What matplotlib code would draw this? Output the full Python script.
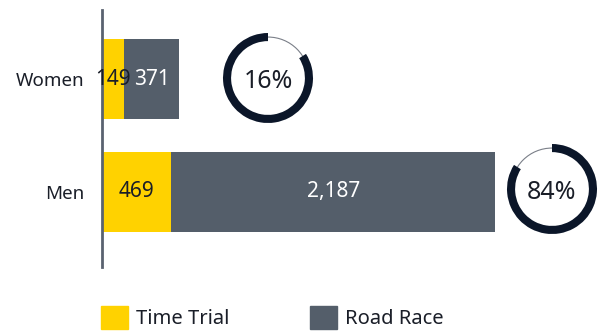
import matplotlib.pyplot as plt
from matplotlib.patches import Patch, Circle

plt.rcParams['font.family'] = ['Noto Sans', 'DejaVu Sans']

categories = ['Men', 'Women']
time_trial = [469, 149]
road_race = [2187, 371]
share_pct = [84, 16]  # men, women

yellow = '#FFD200'
grey = '#545E6A'
navy = '#0B1629'
ink = '#1A1E28'

W, H = 603, 332
fig = plt.figure(figsize=(W / 100, H / 100), dpi=100)

# main bar axes, placed in pixel units
ax = fig.add_axes([102 / W, 65 / H, 500 / W, 257 / H])
y = [0, 1]
ax.barh(y, time_trial, height=0.708, color=yellow)
ax.barh(y, road_race, left=time_trial, height=0.708, color=grey)
ax.set_xlim(0, 3380)
ax.set_ylim(-0.664, 1.611)

for yi, tt, rr in zip(y, time_trial, road_race):
    ax.text(tt / 2, yi, f'{tt:,}', ha='center', va='center', fontsize=15, color=ink)
    ax.text(tt + rr / 2, yi, f'{rr:,}', ha='center', va='center', fontsize=15, color='white')

ax.set_yticks(y)
ax.set_yticklabels(categories, fontsize=13.5, color=ink)
ax.tick_params(axis='y', length=0, pad=13)
ax.set_xticks([])
for s in ['top', 'right', 'bottom']:
    ax.spines[s].set_visible(False)
ax.spines['left'].set_color('#5A6270')
ax.spines['left'].set_linewidth(2)

# donut rings with the share in the middle
def donut(cx, cy, r, vals, cols, label):
    d = fig.add_axes([(cx - r) / W, (H - cy - r) / H, 2 * r / W, 2 * r / H])
    d.add_patch(Circle((0, 0), 0.91, fill=False, ec='#7A7F88', lw=0.8, zorder=0))
    d.pie(vals, colors=cols, startangle=90, counterclock=False, radius=1,
          wedgeprops=dict(width=0.18, linewidth=0))
    d.text(0, -0.07, label, ha='center', va='center', fontsize=18, color=ink)
    d.set_xlim(-1, 1)
    d.set_ylim(-1, 1)
    d.set_aspect('equal')
    d.axis('off')

donut(268, 78, 45, [share_pct[1], share_pct[0]], ['none', navy], f'{share_pct[1]}%')
donut(552, 189, 45, [share_pct[0], share_pct[1]], [navy, 'none'], f'{share_pct[0]}%')

handles = [Patch(color=yellow, label='Time Trial'), Patch(color=grey, label='Road Race')]
fig.legend(handles=handles, loc='lower left', bbox_to_anchor=(101 / W, 3 / H),
           ncol=2, frameon=False, fontsize=14.5, labelcolor=ink,
           handlelength=1.35, handleheight=1.35, handletextpad=0.4,
           columnspacing=4.0, borderpad=0, borderaxespad=0)

fig.savefig('out.png', dpi=100)
